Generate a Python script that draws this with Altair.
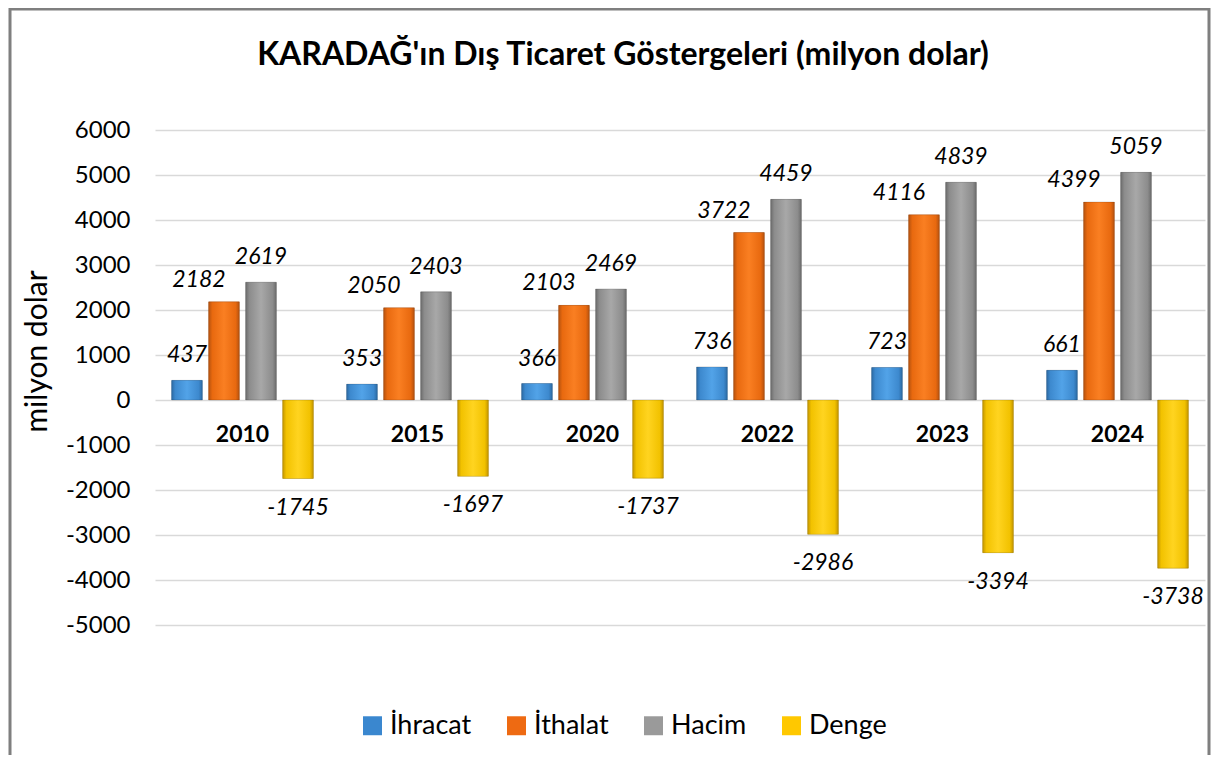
import altair as alt
import pandas as pd

years = ["2010", "2015", "2020", "2022", "2023", "2024"]
series = ["İhracat", "İthalat", "Hacim", "Denge"]
ihracat = [437, 353, 366, 736, 723, 661]
ithalat = [2182, 2050, 2103, 3722, 4116, 4399]
hacim = [2619, 2403, 2469, 4459, 4839, 5059]
denge = [-1745, -1697, -1737, -2986, -3394, -3738]
y_ticks = [-5000, -4000, -3000, -2000, -1000, 0, 1000, 2000, 3000, 4000, 5000, 6000]

title_text = "KARADAĞ'ın Dış Ticaret Göstergeleri (milyon dolar)"
y_title = "milyon dolar"

solid = ["#3A87CF", "#EE6A12", "#9A9A9A", "#FFC800"]
grad_stops = {
    "İhracat": ["#2C6AA3", "#3D89CE", "#52A3E8", "#3D89CE", "#2C6AA3"],
    "İthalat": ["#B5520F", "#E8690F", "#FA7F22", "#E8690F", "#B5520F"],
    "Hacim": ["#6C6C6C", "#8C8C8C", "#A8A8A8", "#8C8C8C", "#6C6C6C"],
    "Denge": ["#C49600", "#F2C200", "#FFD420", "#F2C200", "#C49600"],
}
stop_offsets = [0, 0.12, 0.5, 0.88, 1]

rows = []
for name, vals in zip(series, [ihracat, ithalat, hacim, denge]):
    for yr, v in zip(years, vals):
        rows.append({"year": yr, "series": name, "value": v, "label": str(v)})
df = pd.DataFrame(rows)
df_years = pd.DataFrame({"year": years, "zero": [0] * len(years)})

FONT = "Lato"

x_enc = alt.X("year:N", sort=years, axis=None,
              scale=alt.Scale(paddingInner=0.19, paddingOuter=0.095))
xo_enc = alt.XOffset("series:N", sort=series,
                     scale=alt.Scale(domain=series, paddingInner=0.17, paddingOuter=0))
y_scale = alt.Scale(domain=[-5000, 6000], nice=False, zero=False)
y_enc = alt.Y("value:Q", scale=y_scale,
              axis=alt.Axis(values=y_ticks, labelExpr="'' + datum.value",
                            title=y_title, titleX=-118, titleY=221,
                            titleAngle=-90, titleBaseline="middle", titleAlign="center",
                            titleFont=FONT, titleFontSize=30, titleFontWeight="normal",
                            titleColor="#000000",
                            labelFont=FONT, labelFontSize=24, labelColor="#000000",
                            labelPadding=25, ticks=False, domain=False,
                            grid=True, gridColor="#D9D9D9", gridWidth=1.3))

frame = alt.Chart(alt.Data(values=[{}])).mark_rect(
    filled=False, stroke="#7F7F7F", strokeWidth=3
).encode(x=alt.value(-145), x2=alt.value(1054), y=alt.value(-121), y2=alt.value(700))

title = alt.Chart(alt.Data(values=[{"t": title_text}])).mark_text(
    font=FONT, fontSize=32, fontWeight="bold", color="#000000",
    align="center", baseline="middle"
).encode(x=alt.value(468), y=alt.value(-75), text="t:N")

base = alt.Chart(df).mark_bar().encode(
    x=x_enc, xOffset=xo_enc, y=y_enc,
    color=alt.Color("series:N", sort=series,
                    scale=alt.Scale(domain=series, range=solid),
                    legend=alt.Legend(title=None, orient="none", direction="horizontal",
                                      legendX=204, legendY=582,
                                      symbolType="square", symbolSize=360,
                                      symbolStrokeWidth=0, labelFont=FONT,
                                      labelFontSize=27, labelColor="#000000",
                                      labelOffset=4, columnPadding=31)),
)

grad_layers = []
for name in series:
    g = alt.Gradient(
        gradient="linear",
        stops=[alt.GradientStop(color=c, offset=o) for c, o in zip(grad_stops[name], stop_offsets)],
        x1=0, x2=1, y1=0, y2=0,
    )
    grad_layers.append(
        alt.Chart(df).transform_filter(alt.datum.series == name)
        .mark_bar(color=g, stroke="#00000033", strokeWidth=0.8)
        .encode(x=x_enc, xOffset=xo_enc, y=y_enc)
    )

def lbl(names, dx, dy):
    return alt.Chart(df).transform_filter(
        alt.FieldOneOfPredicate(field="series", oneOf=names)
    ).mark_text(font=FONT, fontSize=23, fontStyle="italic", color="#000000",
                dx=dx, dy=dy, baseline="middle").encode(
        x=x_enc, xOffset=xo_enc, y=y_enc, text="label:N")

lbl_a = lbl(["İhracat", "Hacim"], 0, -25)
lbl_b = lbl(["İthalat"], -25, -22)
lbl_c = lbl(["Denge"], 0, 29)

year_lbl = alt.Chart(df_years).mark_text(
    font=FONT, fontSize=23, fontWeight="bold", color="#000000", dy=35, baseline="middle"
).encode(x=x_enc, y=alt.Y("zero:Q", scale=y_scale), text="year:N")

chart = alt.layer(frame, title, base, *grad_layers, lbl_a, lbl_b, lbl_c, year_lbl).properties(
    width=1050, height=495,
    autosize=alt.AutoSizeParams(type="none"),
    padding={"left": 147, "top": 122, "right": 6, "bottom": 130},
).configure_view(strokeWidth=0)

chart.save("out.html", embed_options={"renderer": "svg", "actions": False})
